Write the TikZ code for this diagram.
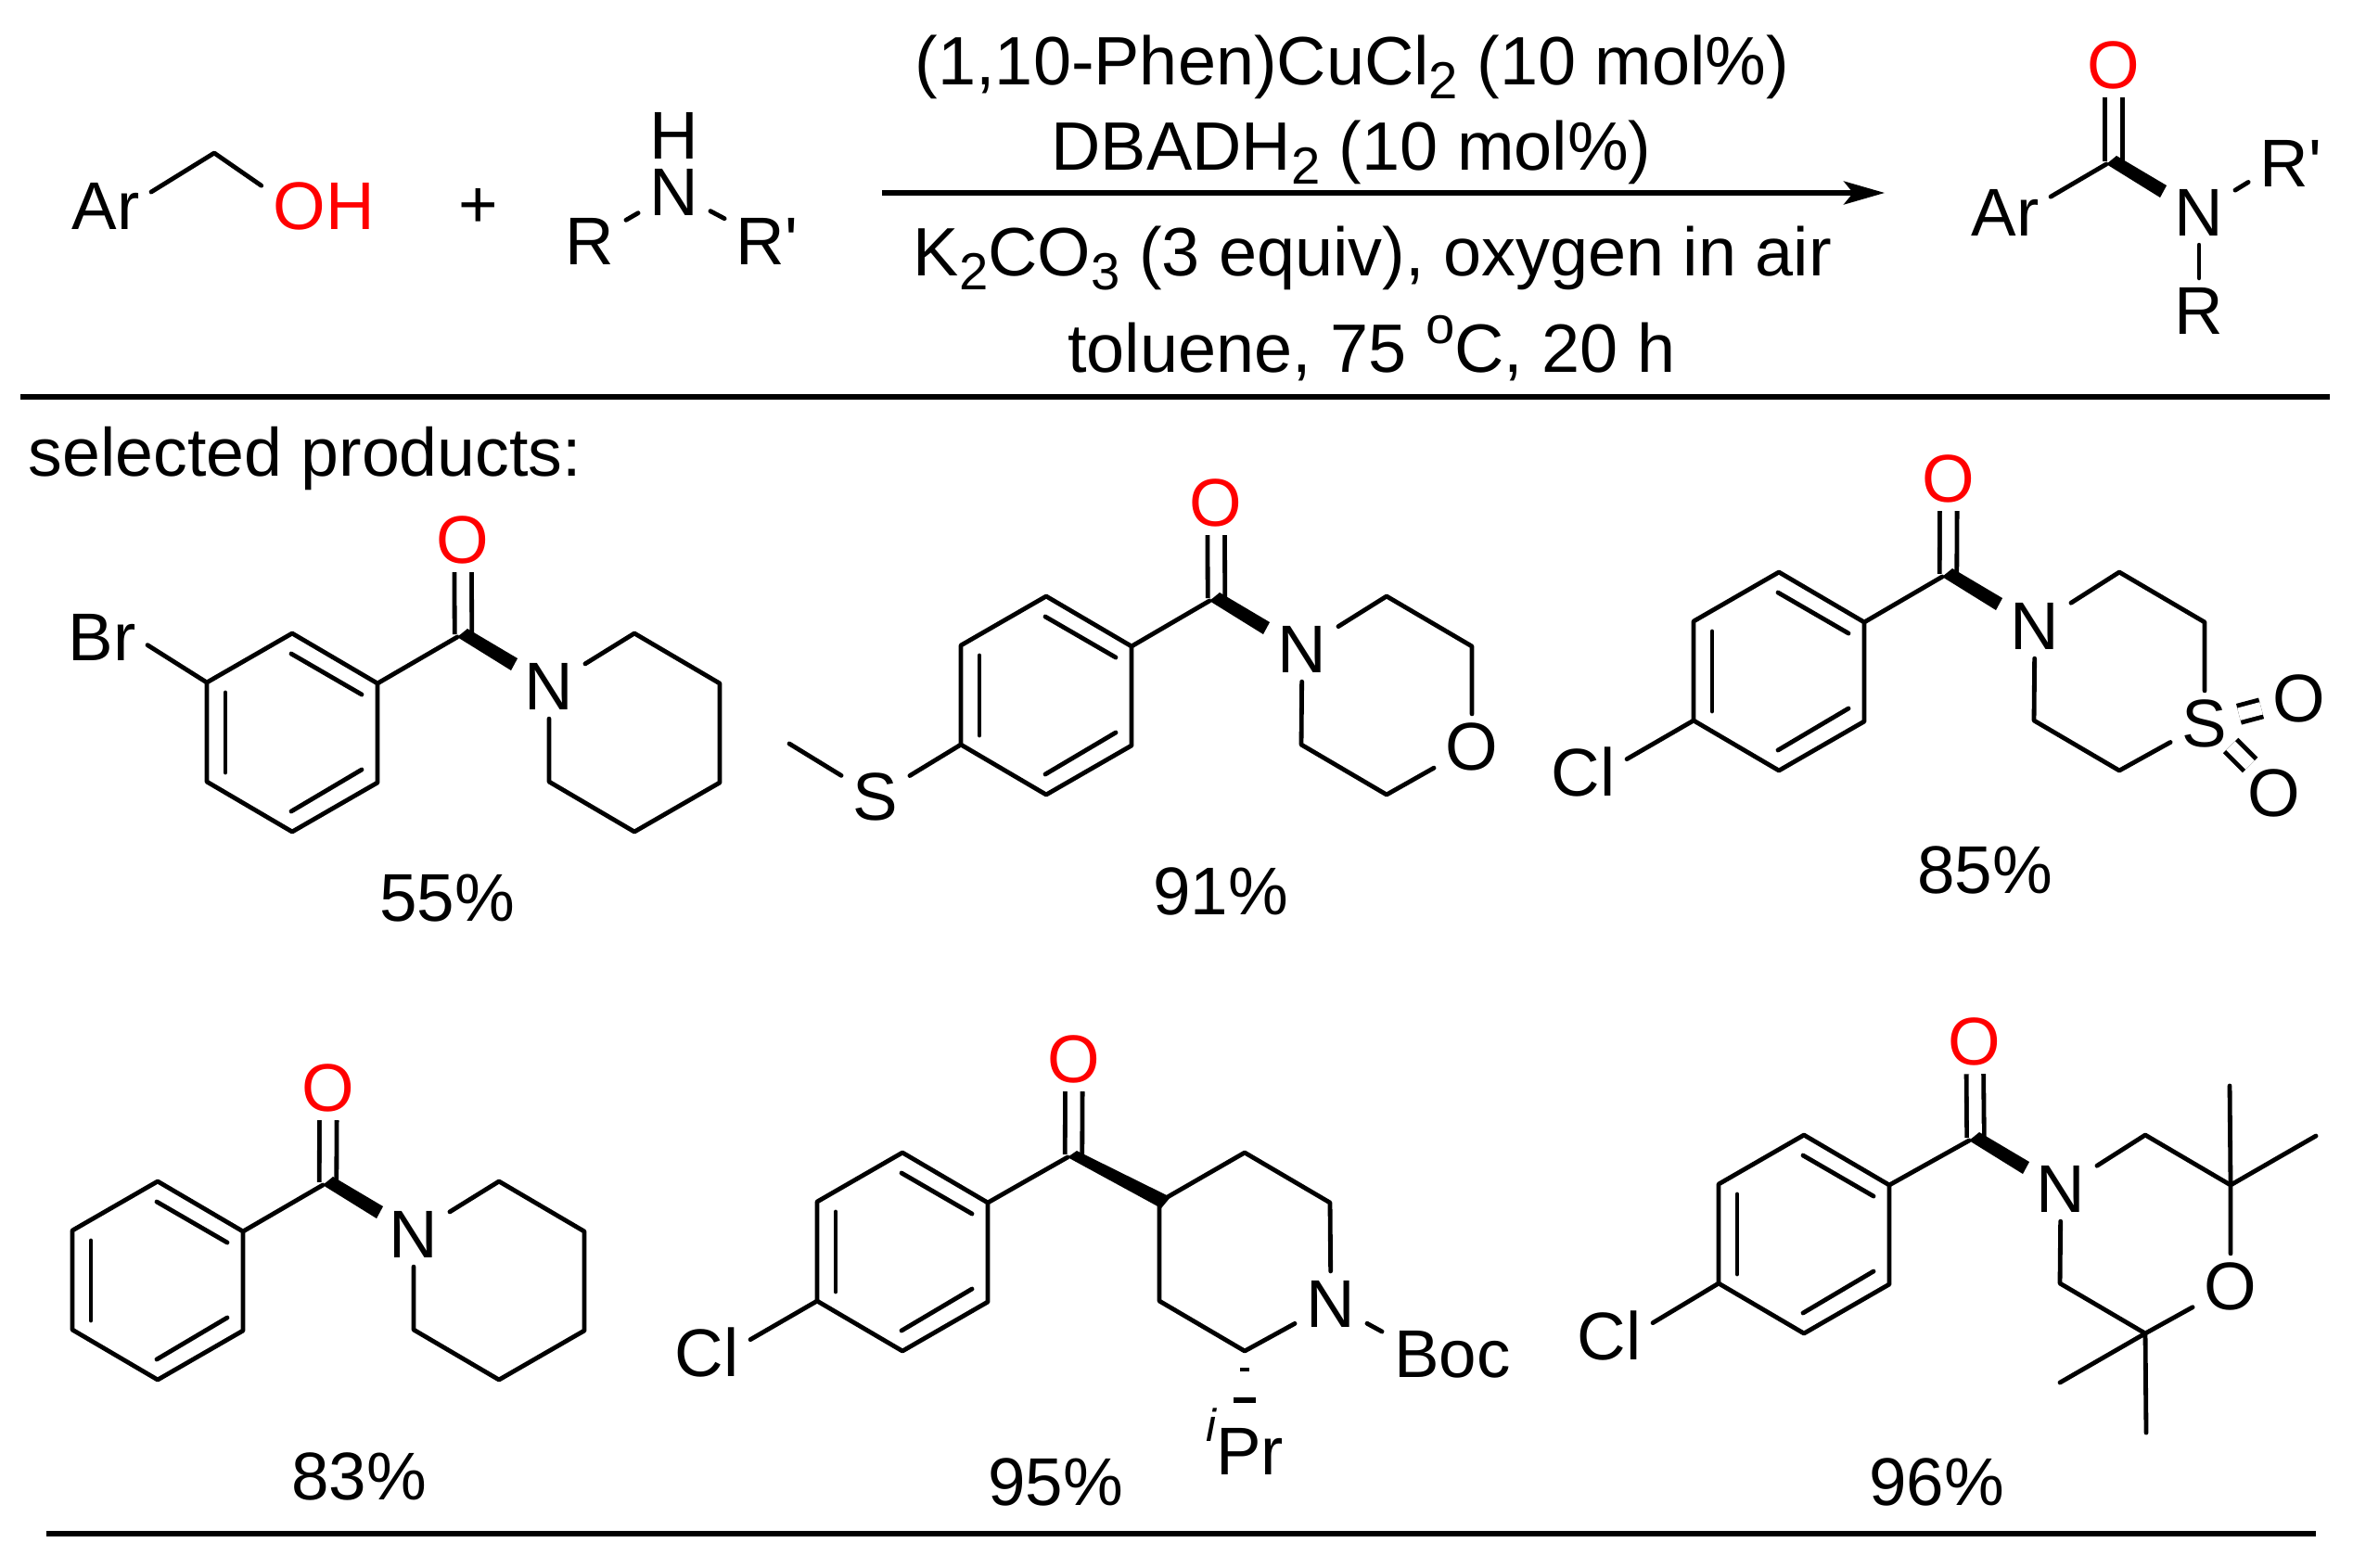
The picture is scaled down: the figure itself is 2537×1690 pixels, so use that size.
\documentclass[tikz,border=0pt]{standalone}
\usepackage{fontspec}
\usepackage{tikz}
\usetikzlibrary{arrows.meta}
\newfontfamily\chemfont{Liberation Sans}
\newcommand{\lowtwo}[1]{\raisebox{-4.5pt}{\fontsize{16pt}{16pt}\selectfont #1}}
\newcommand{\hexpoints}[3]{
  \coordinate (#1a) at (#2, #3-107);
  \coordinate (#1b) at (#2+92, #3-53);
  \coordinate (#1c) at (#2+92, #3+54);
  \coordinate (#1d) at (#2, #3+107);
  \coordinate (#1e) at (#2-92, #3+53);
  \coordinate (#1f) at (#2-92, #3-54);
}
\newcommand{\benzring}[3]{
  \hexpoints{#1}{#2}{#3}
  \draw[bondstyle] (#1a) -- (#1b) -- (#1c) -- (#1d) -- (#1e) -- (#1f) -- cycle;
  \draw[bondstyle] (#2-1, #3-85) -- (#2+75, #3-41);
  \draw[bondstyle] (#2-1, #3+85) -- (#2+75, #3+40);
  \draw[bondstyle] (#2-72, #3-43) -- (#2-72, #3+43);
}
\newcommand{\wedgeat}[1]{\fill (#1) -- ++(11,-9) -- ++(54,32) -- ++(-7,13) -- cycle;}

\begin{document}
\begin{tikzpicture}[x=0.01cm, y=-0.01cm]
  \tikzset{textstyle/.style={font=\chemfont\fontsize{20.7pt}{24pt}\selectfont, inner sep=0pt, anchor=base}}
  \tikzset{condstyle/.style={font=\chemfont\fontsize{21pt}{24pt}\selectfont, inner sep=0pt, anchor=base}}
  \tikzset{atomstyle/.style={font=\chemfont\fontsize{20.7pt}{24pt}\selectfont, text height=14.5pt, text depth=0pt, inner xsep=3.4pt, inner ysep=2.55pt}}
  \tikzset{oxstyle/.style={atomstyle, text=red}}
  \tikzset{bondstyle/.style={line width=1.37pt, line cap=round, line join=round}}
  \tikzset{dblstyle/.style={line width=1.37pt, double, double distance=3.9pt, line cap=butt}}
  \tikzset{rulestyle/.style={line width=1.45pt}}
  \useasboundingbox (0,0) rectangle (2537,1690);

  % top level
  \node[atomstyle] (ar0) at (114, 222) {Ar};
  \node[oxstyle] (oh0) at (349, 222) {OH};
  \coordinate (ch0) at (231, 165);
  \draw[bondstyle] (ar0.17) -- (ch0) -- (oh0.162);
  \node[atomstyle] (plus) at (516, 220) {+};
  \node[atomstyle, inner ysep=0pt] (nh) at (727, 146) {H};
  \node[atomstyle] (n0) at (727, 207) {N};
  \node[atomstyle] (r0) at (636, 260) {R};
  \node[atomstyle] (rp0) at (827, 260) {R'};
  \path (n0) edge [bondstyle] (r0);
  \path (n0) edge [bondstyle] (rp0);

  \coordinate (arrowa) at (951, 208);
  \coordinate (arrowb) at (2032, 208);
  \draw[rulestyle, -{Stealth[length=0.44cm, width=0.25cm, inset=0.1cm]}] (arrowa) -- (arrowb);
  \node[condstyle] (cond1) at (1458, 91) {(1,10-Phen)CuCl\lowtwo{2} (10 mol\%)};
  \node[condstyle] (cond2) at (1457, 183) {DBADH\lowtwo{2} (10 mol\%)};
  \node[condstyle] (cond3) at (1480, 297) {K\lowtwo{2}CO\lowtwo{3} (3 equiv), oxygen in air};
  \node[condstyle] (cond4) at (1479, 401) {toluene, 75 \raisebox{8.8pt}{\fontsize{16pt}{16pt}\selectfont o}C, 20 h};

  \coordinate (c0) at (2271, 177);
  \coordinate (d0) at (2279, 174);
  \node[oxstyle] (o0) at (2279, 70) {O};
  \node[atomstyle] (ar1) at (2162, 229) {Ar};
  \node[atomstyle] (n1) at (2371, 229) {N};
  \node[atomstyle] (rp1) at (2470, 176) {R'};
  \node[atomstyle] (r1) at (2371, 335) {R};
  \path (o0) edge [dblstyle] (d0);
  \path (c0) edge [bondstyle] (ar1.19);
  \path (n1) edge [bondstyle] (rp1.204);
  \path (n1) edge [bondstyle] (r1);
  \wedgeat{c0}

  \coordinate (rulea) at (22, 428);
  \coordinate (ruleb) at (2512, 428);
  \draw[rulestyle] (rulea) -- (ruleb);
  \node[textstyle, font=\chemfont\fontsize{20.9pt}{24pt}\selectfont, anchor=base west] (sel) at (30, 513) {selected products:};

  % bromo piperidine
  \benzring{ra}{315}{790}
  \hexpoints{sa}{684}{790}
  \coordinate (ca) at (493, 687);
  \coordinate (da) at (499.5, 684);
  \node[oxstyle] (oa) at (499, 582) {O};
  \node[atomstyle] (na) at (592, 740) {N};
  \node[atomstyle] (bra) at (110, 687) {Br};
  \node[textstyle] (ya) at (482, 993) {55\%};
  \path (oa) edge [dblstyle] (da);
  \draw[bondstyle] (rab) -- (ca);
  \draw[bondstyle] (raf) -- (bra.-10);
  \draw[bondstyle] (na) -- (saa) -- (sab) -- (sac) -- (sad) -- (sae) -- (na);
  \wedgeat{ca}

  % thioether morpholine
  \benzring{rb}{1128}{750}
  \hexpoints{sb}{1495}{750}
  \coordinate (cb) at (1304, 648);
  \coordinate (db) at (1311.5, 645);
  \coordinate (mes) at (851, 802);
  \node[oxstyle] (ob) at (1311, 542) {O};
  \node[atomstyle] (nb) at (1404, 700) {N};
  \node[atomstyle] (thio) at (944, 859) {S};
  \node[atomstyle] (mob) at (1587, 805) {O};
  \node[textstyle] (yb) at (1316, 986) {91\%};
  \path (ob) edge [dblstyle] (db);
  \draw[bondstyle] (rbb) -- (cb);
  \draw[bondstyle] (rbe) -- (thio) -- (mes);
  \draw[bondstyle] (nb) -- (sba) -- (sbb) -- (mob) -- (sbd) -- (sbe) -- (nb);
  \wedgeat{cb}

  % sulfone
  \benzring{rc}{1918}{724}
  \hexpoints{sc}{2285}{724}
  \coordinate (cc) at (2094, 622);
  \coordinate (dc) at (2100.5, 619);
  \coordinate (soa) at (2405, 804);
  \coordinate (sob) at (2426, 825);
  \node[oxstyle] (oc) at (2101, 516) {O};
  \node[atomstyle] (nc) at (2194, 675) {N};
  \node[atomstyle] (clc) at (1707, 833) {Cl};
  \node[atomstyle] (sulf) at (2377, 780) {S};
  \node[atomstyle] (oxa) at (2479, 753) {O};
  \node[atomstyle] (oxb) at (2452, 855) {O};
  \node[textstyle] (yc) at (2140, 963) {85\%};
  \path (oc) edge [dblstyle] (dc);
  \path (sulf) edge [dblstyle] (oxa);
  \path (soa) edge [dblstyle] (sob);
  \draw[bondstyle] (rce) -- (clc.17);
  \draw[bondstyle] (rcb) -- (cc);
  \draw[bondstyle] (nc) -- (sca) -- (scb) -- (sulf) -- (scd) -- (sce) -- (nc);
  \wedgeat{cc}

  % plain benzoyl
  \benzring{rd}{170}{1381}
  \hexpoints{sd}{538}{1381}
  \coordinate (cd) at (348, 1278);
  \coordinate (dd) at (353.5, 1275);
  \node[oxstyle] (od) at (354, 1173) {O};
  \node[atomstyle] (nd) at (446, 1331) {N};
  \node[textstyle] (yd) at (387, 1617) {83\%};
  \path (od) edge [dblstyle] (dd);
  \draw[bondstyle] (rdb) -- (cd);
  \draw[bondstyle] (nd) -- (sda) -- (sdb) -- (sdc) -- (sdd) -- (sde) -- (nd);
  \wedgeat{cd}

  % boc piperidine
  \benzring{re}{973}{1350}
  \hexpoints{se}{1342}{1350}
  \coordinate (ce) at (1151, 1248);
  \coordinate (de) at (1157.5, 1245);
  \coordinate (boce) at (1490, 1436);
  \node[oxstyle] (oe) at (1158, 1142) {O};
  \node[atomstyle] (cle) at (762, 1459) {Cl};
  \node[atomstyle] (ne) at (1435, 1406) {N};
  \node[atomstyle] (boc) at (1566, 1460) {Boc};
  \node[textstyle] (ipr) at (1342, 1590) {\raisebox{10pt}{\fontsize{14pt}{14pt}\selectfont\itshape i}Pr};
  \node[textstyle] (ye) at (1138, 1623) {95\%};
  \path (oe) edge [dblstyle] (de);
  \draw[bondstyle] (reb) -- (ce);
  \draw[bondstyle] (ree) -- (cle.17);
  \draw[bondstyle] (sef) -- (sea) -- (seb) -- (ne) -- (sed) -- (see) -- (sef);
  \path (ne) edge [bondstyle] (boce);
  \fill (ce) -- (1161, 1241) -- (1262, 1291) -- (1252, 1303) -- cycle;
  % hashed bond
  \draw[line width=1.3pt] (1337, 1477) -- (1347, 1477);
  \draw[line width=1.6pt] (1330, 1510) -- (1354, 1510);

  % tetramethyl morpholine
  \benzring{rf}{1945}{1331}
  \hexpoints{sf}{2313}{1331}
  \coordinate (cf) at (2123, 1230);
  \coordinate (df) at (2130, 1227);
  \coordinate (mea) at (2404, 1171);
  \coordinate (meb) at (2497, 1225);
  \coordinate (mec) at (2221, 1491);
  \coordinate (med) at (2314, 1545);
  \node[oxstyle] (of) at (2129, 1123) {O};
  \node[atomstyle] (nf) at (2222, 1282) {N};
  \node[atomstyle] (clf) at (1735, 1441) {Cl};
  \node[atomstyle] (mof) at (2405, 1387) {O};
  \node[textstyle] (yf) at (2088, 1623) {96\%};
  \path (of) edge [dblstyle] (df);
  \draw[bondstyle] (rfb) -- (cf);
  \draw[bondstyle] (rfe) -- (clf.17);
  \draw[bondstyle] (nf) -- (sfa) -- (sfb) -- (mof) -- (sfd) -- (sfe) -- (nf);
  \draw[bondstyle] (mea) -- (sfb) -- (meb);
  \draw[bondstyle] (mec) -- (sfd) -- (med);
  \wedgeat{cf}

  \coordinate (rulec) at (50, 1654);
  \coordinate (ruled) at (2497, 1654);
  \draw[line width=1.6pt] (rulec) -- (ruled);
\end{tikzpicture}
\end{document}
